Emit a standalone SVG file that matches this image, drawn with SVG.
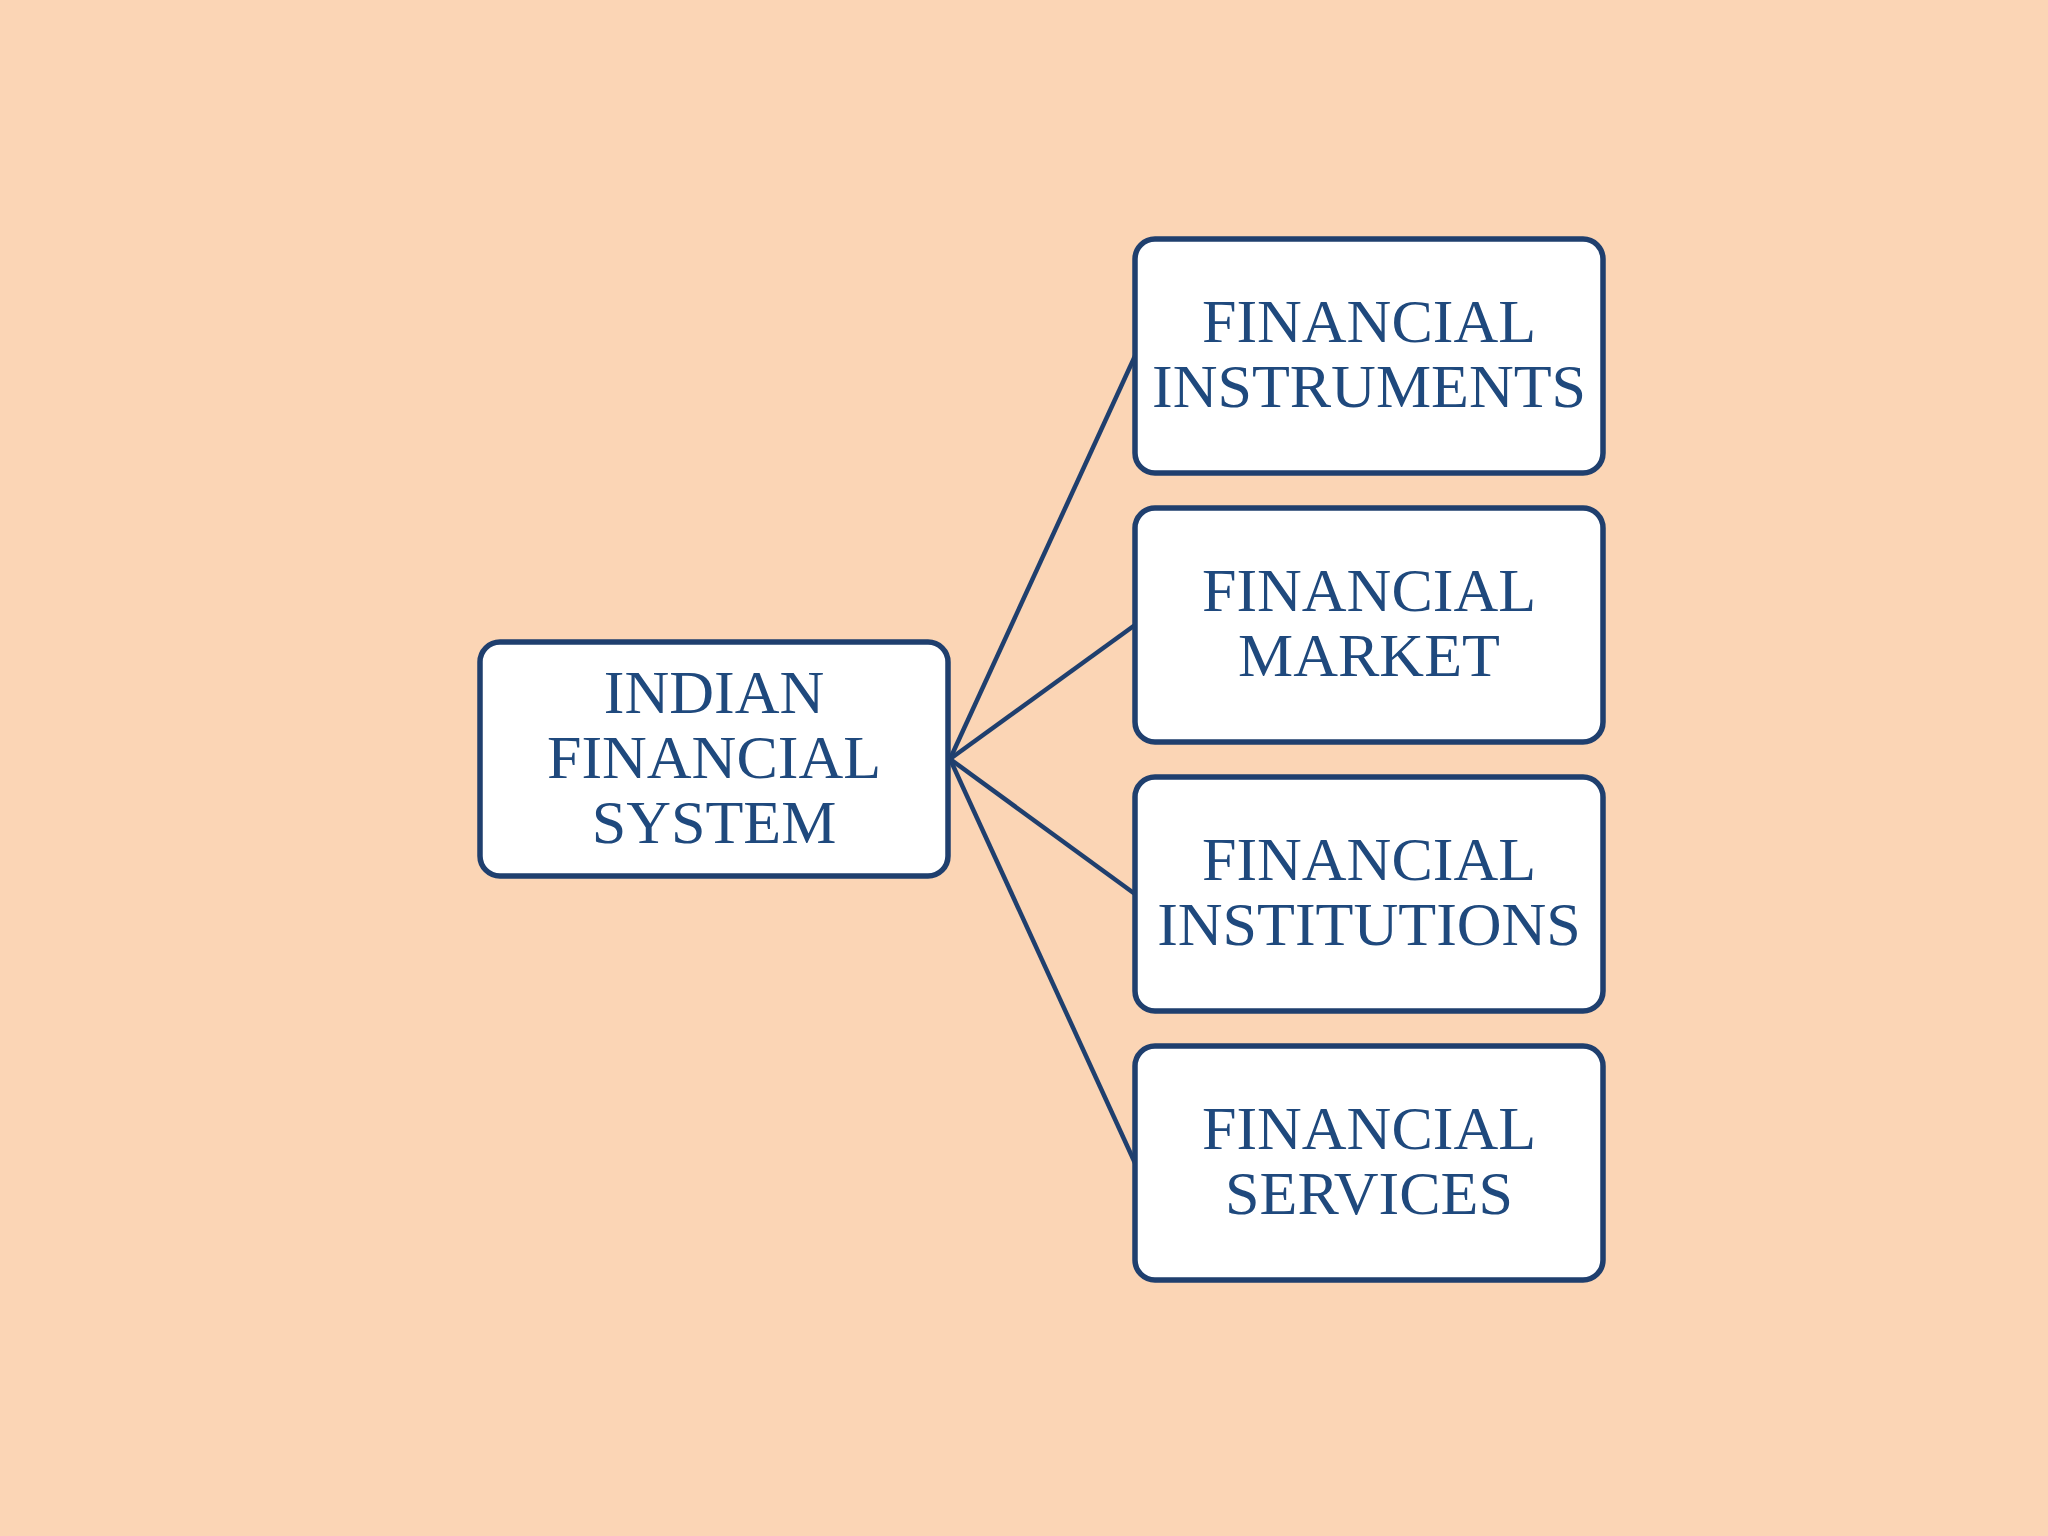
<svg xmlns="http://www.w3.org/2000/svg" width="2048" height="1536" viewBox="0 0 2048 1536">
<style>
.box{fill:#ffffff;stroke:#1F3F6E;stroke-width:5.5}
.lbl{font-family:"Liberation Serif","Times New Roman",serif;font-size:62px;fill:#1F497D;text-anchor:middle}
.conn{stroke:#1F3F6E;stroke-width:4.5;fill:none}
</style>
<rect x="0" y="0" width="2048" height="1536" fill="#FBD5B5"/>
<g id="connectors">
<line class="conn" x1="950" y1="759" x2="1135" y2="356"/>
<line class="conn" x1="950" y1="759" x2="1135" y2="625"/>
<line class="conn" x1="950" y1="759" x2="1135" y2="894"/>
<line class="conn" x1="950" y1="759" x2="1135" y2="1163"/>
</g>
<g id="indian-financial-system">
<rect class="box" x="480" y="642" width="468" height="234" rx="20"/>
<text class="lbl" x="714" y="713">INDIAN</text>
<text class="lbl" x="714" y="778">FINANCIAL</text>
<text class="lbl" x="714" y="843">SYSTEM</text>
</g>
<g id="financial-instruments">
<rect class="box" x="1135" y="239" width="468" height="234" rx="20"/>
<text class="lbl" x="1369" y="342">FINANCIAL</text>
<text class="lbl" x="1369" y="407">INSTRUMENTS</text>
</g>
<g id="financial-market">
<rect class="box" x="1135" y="508" width="468" height="234" rx="20"/>
<text class="lbl" x="1369" y="611">FINANCIAL</text>
<text class="lbl" x="1369" y="676">MARKET</text>
</g>
<g id="financial-institutions">
<rect class="box" x="1135" y="777" width="468" height="234" rx="20"/>
<text class="lbl" x="1369" y="880">FINANCIAL</text>
<text class="lbl" x="1369" y="945">INSTITUTIONS</text>
</g>
<g id="financial-services">
<rect class="box" x="1135" y="1046" width="468" height="234" rx="20"/>
<text class="lbl" x="1369" y="1149">FINANCIAL</text>
<text class="lbl" x="1369" y="1214">SERVICES</text>
</g>
</svg>
